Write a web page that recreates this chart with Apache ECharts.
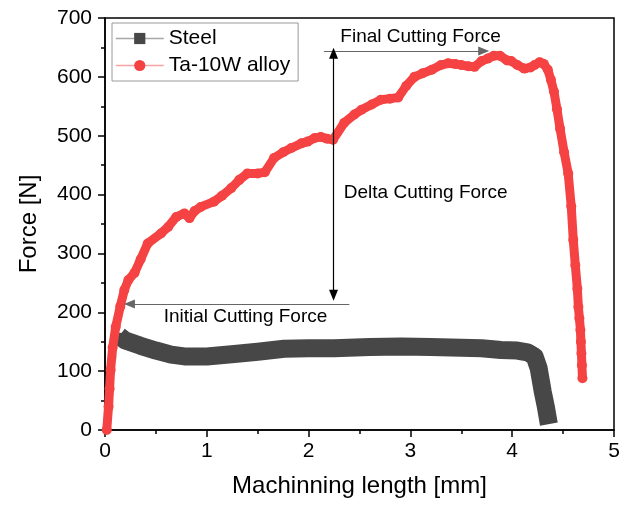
<!DOCTYPE html>
<html>
<head>
<meta charset="utf-8">
<script src="https://cdn.jsdelivr.net/npm/echarts@6/dist/echarts.min.js"></script>
<style>
  html, body { margin: 0; padding: 0; background: #fff; }
  #chart { width: 630px; height: 505px; }
</style>
</head>
<body>
<div id="chart"></div>
<script>
// --- data ---
const steelLength = [0.02, 0.05, 0.08, 0.11, 0.14, 0.2, 0.35, 0.5, 0.65, 0.78, 1.0, 1.27, 1.5, 1.76, 2.0, 2.25, 2.6, 2.91, 3.2, 3.4, 3.7, 3.89, 4.05, 4.15, 4.22, 4.26, 4.28, 4.30, 4.33, 4.35, 4.36];
const steelForce  = [0, 70, 125, 155, 160, 152, 143, 135, 128, 125, 125, 129, 133, 138, 139, 139, 141, 142, 141, 140, 139, 136, 135, 132, 125, 105, 85, 65, 40, 20, 10];
const steelPeakIndex = 4; // end of the initial rise

const alloyLength = [0.017, 0.035, 0.045, 0.055, 0.075, 0.105, 0.15, 0.19, 0.23, 0.29, 0.35, 0.42, 0.55, 0.62, 0.70, 0.78, 0.83, 0.88, 0.94, 1.07, 1.15, 1.24, 1.32, 1.40, 1.50, 1.57, 1.66, 1.75, 1.83, 1.93, 1.99, 2.06, 2.12, 2.18, 2.24, 2.35, 2.45, 2.52, 2.62, 2.71, 2.80, 2.88, 2.96, 3.04, 3.12, 3.21, 3.30, 3.37, 3.44, 3.50, 3.57, 3.63, 3.70, 3.76, 3.82, 3.88, 3.95, 3.99, 4.05, 4.12, 4.18, 4.22, 4.27, 4.31, 4.35, 4.38, 4.41, 4.44, 4.47, 4.51, 4.55, 4.58, 4.60, 4.62, 4.64, 4.65, 4.66, 4.67, 4.675, 4.68, 4.685, 4.69];
const alloyForce  = [0, 40, 70, 102, 140, 175, 210, 238, 255, 267, 290, 317, 334, 345, 362, 368, 360, 372, 379, 388, 398, 411, 425, 436, 436, 438, 462, 472, 479, 487, 490, 496, 498, 495, 493, 522, 536, 544, 553, 561, 563, 565, 585, 600, 606, 612, 620, 623, 622, 620, 618, 617, 627, 631, 636, 636, 628, 627, 620, 614, 616, 620, 625, 622, 612, 595, 575, 545, 512, 472, 436, 380, 323, 280, 240, 209, 190, 170, 150, 130, 110, 88];

const seriesNames = ['Steel', 'Ta-10W alloy'];
const xTicks = [0, 5, 1];     // min, max, interval
const yTicks = [0, 700, 100];

const FONT = '"Liberation Sans", Arial, sans-serif';

const steelData = steelLength.map((x, i) => [x, steelForce[i]]);
const alloyData = alloyLength.map((x, i) => [x, alloyForce[i]]);

const chart = echarts.init(document.getElementById('chart'));

// axis style shared (Origin-like)
const axisBase = {
    axisLine: { show: true, onZero: false, lineStyle: { color: '#000', width: 1.5 } },
    axisTick: { show: true, inside: false, length: 7, lineStyle: { color: '#000', width: 1.5 } },
    minorTick: { show: true, splitNumber: 2, length: 4, lineStyle: { color: '#000', width: 1.5 } },
    splitLine: { show: false },
    nameTextStyle: { fontFamily: FONT, fontSize: 24, color: '#000' }
};

chart.setOption({
    animation: false,
    backgroundColor: '#fff',
    grid: { left: 105, right: 16, top: 18, bottom: 75, show: true, borderColor: '#000', borderWidth: 1.5 },
    legend: {
        orient: 'vertical', left: 112, top: 23,
        padding: [5, 8, 5, 3], itemGap: 6, itemWidth: 48, itemHeight: 14,
        borderColor: '#9a9a9a', borderWidth: 1, backgroundColor: '#fff',
        textStyle: { fontFamily: FONT, fontSize: 21, color: '#000' },
        data: [
            { name: seriesNames[0], lineStyle: { color: '#a8a8a8', width: 1.5 }, itemStyle: { color: '#474747' } },
            { name: seriesNames[1], lineStyle: { color: '#f7a3a3', width: 1.5 }, itemStyle: { color: '#f54242' } }
        ]
    },
    xAxis: {
        type: 'value', min: xTicks[0], max: xTicks[1], interval: xTicks[2],
        name: 'Machinning length [mm]', nameLocation: 'middle', nameGap: 44,
        axisLabel: { fontFamily: FONT, fontSize: 21, color: '#000', margin: 11 },
        ...axisBase
    },
    yAxis: {
        type: 'value', min: yTicks[0], max: yTicks[1], interval: yTicks[2],
        name: 'Force [N]', nameLocation: 'middle', nameGap: 64,
        axisLabel: { fontFamily: FONT, fontSize: 21, color: '#000', margin: 13 },
        ...axisBase
    },
    series: [
        {
            // initial rise: sparse points, thin
            name: seriesNames[0], type: 'line', data: steelData.slice(0, steelPeakIndex + 1),
            symbol: 'rect', symbolSize: 6, showSymbol: true, color: '#474747',
            itemStyle: { color: '#474747' },
            lineStyle: { width: 3, color: '#474747' },
            z: 2
        },
        {
            // dense noisy plateau -> thick band
            name: seriesNames[0], type: 'line', data: steelData.slice(steelPeakIndex),
            symbol: 'rect', showSymbol: false, color: '#474747',
            lineStyle: { width: 18, color: '#474747', join: 'round' },
            z: 2
        },
        {
            name: seriesNames[1], type: 'line', data: alloyData,
            symbol: 'circle', symbolSize: 10, showSymbol: true, color: '#f54242',
            itemStyle: { color: '#f54242' },
            lineStyle: { width: 9, color: '#f54242', join: 'round' },
            z: 3,
            markLine: {
                silent: true, animation: false,
                label: { show: false },
                symbolSize: [9, 11],
                data: [
                    [{ coord: [2.15, 644], symbol: 'none', lineStyle: { color: '#666', width: 1.2, type: 'solid' } },
                     { coord: [3.72, 644], symbol: 'triangle' }],
                    [{ coord: [2.245, 640], symbol: 'triangle', lineStyle: { color: '#000', width: 1.2, type: 'solid' } },
                     { coord: [2.245, 229], symbol: 'triangle' }],
                    [{ coord: [2.40, 214], symbol: 'none', lineStyle: { color: '#666', width: 1.2, type: 'solid' } },
                     { coord: [0.24, 214], symbol: 'triangle' }]
                ]
            },
            markPoint: {
                silent: true, animation: false,
                symbol: 'circle', symbolSize: 1,
                itemStyle: { color: 'transparent' },
                label: { show: true, position: 'inside', fontFamily: FONT, fontSize: 19, color: '#000' },
                data: [
                    { coord: [3.1, 668], label: { formatter: 'Final Cutting Force' } },
                    { coord: [3.15, 403], label: { formatter: 'Delta Cutting Force' } },
                    { coord: [1.38, 192], label: { formatter: 'Initial Cutting Force' } }
                ]
            }
        }
    ]
});
</script>
</body>
</html>
